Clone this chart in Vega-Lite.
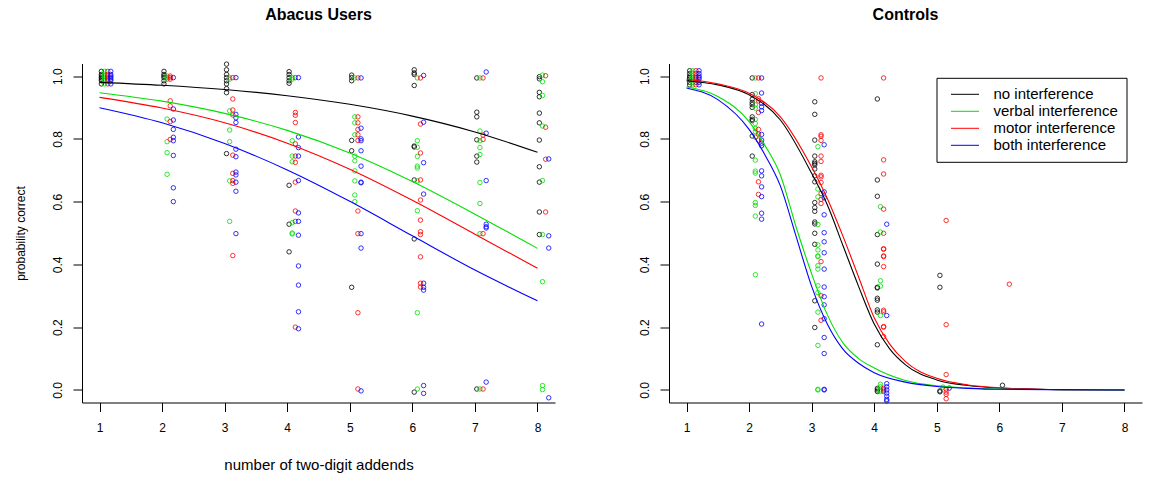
{
"$schema": "https://vega.github.io/schema/vega-lite/v6.json",
"background": "white",
"padding": {"left": 14, "top": 6.5, "right": 5, "bottom": 5},
"spacing": 114,
"bounds": "flush",
"datasets": {
"pts": [
{"panel":"A","cond":"no","x":1.03,"y":0.975},{"panel":"A","cond":"no","x":1.03,"y":0.985},{"panel":"A","cond":"no","x":1.03,"y":0.99},{"panel":"A","cond":"no","x":1.03,"y":0.995},{"panel":"A","cond":"no","x":1.03,"y":1.0},{"panel":"A","cond":"no","x":1.03,"y":1.005},{"panel":"A","cond":"no","x":1.03,"y":1.015},
{"panel":"A","cond":"no","x":2.03,"y":0.975},{"panel":"A","cond":"no","x":2.03,"y":0.985},{"panel":"A","cond":"no","x":2.03,"y":0.995},{"panel":"A","cond":"no","x":2.03,"y":1.0},{"panel":"A","cond":"no","x":2.03,"y":1.005},{"panel":"A","cond":"no","x":2.03,"y":1.015},
{"panel":"A","cond":"no","x":3.03,"y":1.038},{"panel":"A","cond":"no","x":3.03,"y":1.02},{"panel":"A","cond":"no","x":3.03,"y":1.005},{"panel":"A","cond":"no","x":3.03,"y":0.995},{"panel":"A","cond":"no","x":3.03,"y":0.985},{"panel":"A","cond":"no","x":3.03,"y":0.975},{"panel":"A","cond":"no","x":3.03,"y":0.96},{"panel":"A","cond":"no","x":3.03,"y":0.947},{"panel":"A","cond":"no","x":3.03,"y":0.753},
{"panel":"A","cond":"no","x":4.03,"y":1.014},{"panel":"A","cond":"no","x":4.03,"y":1.005},{"panel":"A","cond":"no","x":4.03,"y":0.995},{"panel":"A","cond":"no","x":4.03,"y":0.985},{"panel":"A","cond":"no","x":4.03,"y":0.977},{"panel":"A","cond":"no","x":4.03,"y":0.652},{"panel":"A","cond":"no","x":4.03,"y":0.528},{"panel":"A","cond":"no","x":4.03,"y":0.44},
{"panel":"A","cond":"no","x":5.03,"y":1.003},{"panel":"A","cond":"no","x":5.03,"y":0.995},{"panel":"A","cond":"no","x":5.03,"y":0.985},{"panel":"A","cond":"no","x":5.03,"y":0.795},{"panel":"A","cond":"no","x":5.03,"y":0.762},{"panel":"A","cond":"no","x":5.03,"y":0.327},
{"panel":"A","cond":"no","x":6.03,"y":1.02},{"panel":"A","cond":"no","x":6.03,"y":1.01},{"panel":"A","cond":"no","x":6.03,"y":1.005},{"panel":"A","cond":"no","x":6.03,"y":0.97},{"panel":"A","cond":"no","x":6.03,"y":0.777},{"panel":"A","cond":"no","x":6.03,"y":0.774},{"panel":"A","cond":"no","x":6.03,"y":0.669},{"panel":"A","cond":"no","x":6.03,"y":0.481},{"panel":"A","cond":"no","x":6.03,"y":-0.007},
{"panel":"A","cond":"no","x":7.03,"y":0.994},{"panel":"A","cond":"no","x":7.03,"y":0.885},{"panel":"A","cond":"no","x":7.03,"y":0.87},{"panel":"A","cond":"no","x":7.03,"y":0.797},{"panel":"A","cond":"no","x":7.03,"y":0.745},{"panel":"A","cond":"no","x":7.03,"y":0.726},{"panel":"A","cond":"no","x":7.03,"y":0.003},
{"panel":"A","cond":"no","x":8.03,"y":0.998},{"panel":"A","cond":"no","x":8.03,"y":0.991},{"panel":"A","cond":"no","x":8.03,"y":0.948},{"panel":"A","cond":"no","x":8.03,"y":0.934},{"panel":"A","cond":"no","x":8.03,"y":0.882},{"panel":"A","cond":"no","x":8.03,"y":0.851},{"panel":"A","cond":"no","x":8.03,"y":0.796},{"panel":"A","cond":"no","x":8.03,"y":0.711},{"panel":"A","cond":"no","x":8.03,"y":0.662},{"panel":"A","cond":"no","x":8.03,"y":0.567},{"panel":"A","cond":"no","x":8.03,"y":0.495},
{"panel":"A","cond":"verbal","x":1.08,"y":0.975},{"panel":"A","cond":"verbal","x":1.08,"y":0.985},{"panel":"A","cond":"verbal","x":1.08,"y":0.99},{"panel":"A","cond":"verbal","x":1.08,"y":0.995},{"panel":"A","cond":"verbal","x":1.08,"y":1.0},{"panel":"A","cond":"verbal","x":1.08,"y":1.005},{"panel":"A","cond":"verbal","x":1.08,"y":1.015},
{"panel":"A","cond":"verbal","x":2.08,"y":0.99},{"panel":"A","cond":"verbal","x":2.08,"y":0.995},{"panel":"A","cond":"verbal","x":2.08,"y":1.0},{"panel":"A","cond":"verbal","x":2.08,"y":0.863},{"panel":"A","cond":"verbal","x":2.08,"y":0.791},{"panel":"A","cond":"verbal","x":2.08,"y":0.756},{"panel":"A","cond":"verbal","x":2.08,"y":0.687},
{"panel":"A","cond":"verbal","x":3.08,"y":0.995},{"panel":"A","cond":"verbal","x":3.08,"y":0.99},{"panel":"A","cond":"verbal","x":3.08,"y":0.889},{"panel":"A","cond":"verbal","x":3.08,"y":0.828},{"panel":"A","cond":"verbal","x":3.08,"y":0.791},{"panel":"A","cond":"verbal","x":3.08,"y":0.666},{"panel":"A","cond":"verbal","x":3.08,"y":0.537},
{"panel":"A","cond":"verbal","x":4.08,"y":0.995},{"panel":"A","cond":"verbal","x":4.08,"y":0.99},{"panel":"A","cond":"verbal","x":4.08,"y":0.794},{"panel":"A","cond":"verbal","x":4.08,"y":0.745},{"panel":"A","cond":"verbal","x":4.08,"y":0.727},{"panel":"A","cond":"verbal","x":4.08,"y":0.533},{"panel":"A","cond":"verbal","x":4.08,"y":0.497},{"panel":"A","cond":"verbal","x":4.08,"y":0.5},
{"panel":"A","cond":"verbal","x":5.08,"y":0.994},{"panel":"A","cond":"verbal","x":5.08,"y":0.87},{"panel":"A","cond":"verbal","x":5.08,"y":0.851},{"panel":"A","cond":"verbal","x":5.08,"y":0.813},{"panel":"A","cond":"verbal","x":5.08,"y":0.745},{"panel":"A","cond":"verbal","x":5.08,"y":0.73},{"panel":"A","cond":"verbal","x":5.08,"y":0.698},{"panel":"A","cond":"verbal","x":5.08,"y":0.666},{"panel":"A","cond":"verbal","x":5.08,"y":0.621},{"panel":"A","cond":"verbal","x":5.08,"y":0.6},
{"panel":"A","cond":"verbal","x":6.08,"y":0.994},{"panel":"A","cond":"verbal","x":6.08,"y":0.794},{"panel":"A","cond":"verbal","x":6.08,"y":0.773},{"panel":"A","cond":"verbal","x":6.08,"y":0.744},{"panel":"A","cond":"verbal","x":6.08,"y":0.713},{"panel":"A","cond":"verbal","x":6.08,"y":0.707},{"panel":"A","cond":"verbal","x":6.08,"y":0.666},{"panel":"A","cond":"verbal","x":6.08,"y":0.571},{"panel":"A","cond":"verbal","x":6.08,"y":0.246},{"panel":"A","cond":"verbal","x":6.08,"y":0.003},
{"panel":"A","cond":"verbal","x":7.08,"y":0.994},{"panel":"A","cond":"verbal","x":7.08,"y":0.825},{"panel":"A","cond":"verbal","x":7.08,"y":0.794},{"panel":"A","cond":"verbal","x":7.08,"y":0.772},{"panel":"A","cond":"verbal","x":7.08,"y":0.75},{"panel":"A","cond":"verbal","x":7.08,"y":0.661},{"panel":"A","cond":"verbal","x":7.08,"y":0.594},{"panel":"A","cond":"verbal","x":7.08,"y":0.498},{"panel":"A","cond":"verbal","x":7.08,"y":0.003},
{"panel":"A","cond":"verbal","x":8.08,"y":1.003},{"panel":"A","cond":"verbal","x":8.08,"y":0.982},{"panel":"A","cond":"verbal","x":8.08,"y":0.938},{"panel":"A","cond":"verbal","x":8.08,"y":0.841},{"panel":"A","cond":"verbal","x":8.08,"y":0.667},{"panel":"A","cond":"verbal","x":8.08,"y":0.495},{"panel":"A","cond":"verbal","x":8.08,"y":0.345},{"panel":"A","cond":"verbal","x":8.08,"y":0.014},{"panel":"A","cond":"verbal","x":8.08,"y":0.001},
{"panel":"A","cond":"motor","x":1.13,"y":0.975},{"panel":"A","cond":"motor","x":1.13,"y":0.985},{"panel":"A","cond":"motor","x":1.13,"y":0.99},{"panel":"A","cond":"motor","x":1.13,"y":0.995},{"panel":"A","cond":"motor","x":1.13,"y":1.0},{"panel":"A","cond":"motor","x":1.13,"y":1.005},{"panel":"A","cond":"motor","x":1.13,"y":1.015},
{"panel":"A","cond":"motor","x":2.13,"y":0.99},{"panel":"A","cond":"motor","x":2.13,"y":0.995},{"panel":"A","cond":"motor","x":2.13,"y":1.0},{"panel":"A","cond":"motor","x":2.13,"y":0.921},{"panel":"A","cond":"motor","x":2.13,"y":0.905},{"panel":"A","cond":"motor","x":2.13,"y":0.855},{"panel":"A","cond":"motor","x":2.13,"y":0.798},
{"panel":"A","cond":"motor","x":3.13,"y":0.995},{"panel":"A","cond":"motor","x":3.13,"y":0.927},{"panel":"A","cond":"motor","x":3.13,"y":0.892},{"panel":"A","cond":"motor","x":3.13,"y":0.876},{"panel":"A","cond":"motor","x":3.13,"y":0.748},{"panel":"A","cond":"motor","x":3.13,"y":0.69},{"panel":"A","cond":"motor","x":3.13,"y":0.667},{"panel":"A","cond":"motor","x":3.13,"y":0.658},{"panel":"A","cond":"motor","x":3.13,"y":0.428},
{"panel":"A","cond":"motor","x":4.13,"y":0.995},{"panel":"A","cond":"motor","x":4.13,"y":0.884},{"panel":"A","cond":"motor","x":4.13,"y":0.875},{"panel":"A","cond":"motor","x":4.13,"y":0.852},{"panel":"A","cond":"motor","x":4.13,"y":0.784},{"panel":"A","cond":"motor","x":4.13,"y":0.745},{"panel":"A","cond":"motor","x":4.13,"y":0.725},{"panel":"A","cond":"motor","x":4.13,"y":0.662},{"panel":"A","cond":"motor","x":4.13,"y":0.57},{"panel":"A","cond":"motor","x":4.13,"y":0.537},{"panel":"A","cond":"motor","x":4.13,"y":0.2},
{"panel":"A","cond":"motor","x":5.13,"y":0.994},{"panel":"A","cond":"motor","x":5.13,"y":0.87},{"panel":"A","cond":"motor","x":5.13,"y":0.851},{"panel":"A","cond":"motor","x":5.13,"y":0.83},{"panel":"A","cond":"motor","x":5.13,"y":0.813},{"panel":"A","cond":"motor","x":5.13,"y":0.795},{"panel":"A","cond":"motor","x":5.13,"y":0.57},{"panel":"A","cond":"motor","x":5.13,"y":0.498},{"panel":"A","cond":"motor","x":5.13,"y":0.246},{"panel":"A","cond":"motor","x":5.13,"y":0.003},
{"panel":"A","cond":"motor","x":6.13,"y":0.994},{"panel":"A","cond":"motor","x":6.13,"y":0.847},{"panel":"A","cond":"motor","x":6.13,"y":0.755},{"panel":"A","cond":"motor","x":6.13,"y":0.669},{"panel":"A","cond":"motor","x":6.13,"y":0.605},{"panel":"A","cond":"motor","x":6.13,"y":0.541},{"panel":"A","cond":"motor","x":6.13,"y":0.504},{"panel":"A","cond":"motor","x":6.13,"y":0.495},{"panel":"A","cond":"motor","x":6.13,"y":0.424},{"panel":"A","cond":"motor","x":6.13,"y":0.34},{"panel":"A","cond":"motor","x":6.13,"y":0.328},
{"panel":"A","cond":"motor","x":7.13,"y":0.994},{"panel":"A","cond":"motor","x":7.13,"y":0.812},{"panel":"A","cond":"motor","x":7.13,"y":0.798},{"panel":"A","cond":"motor","x":7.13,"y":0.498},{"panel":"A","cond":"motor","x":7.13,"y":0.003},
{"panel":"A","cond":"motor","x":8.13,"y":1.001},{"panel":"A","cond":"motor","x":8.13,"y":0.837},{"panel":"A","cond":"motor","x":8.13,"y":0.735},{"panel":"A","cond":"motor","x":8.13,"y":0.567},
{"panel":"A","cond":"both","x":1.18,"y":0.975},{"panel":"A","cond":"both","x":1.18,"y":0.985},{"panel":"A","cond":"both","x":1.18,"y":0.99},{"panel":"A","cond":"both","x":1.18,"y":0.995},{"panel":"A","cond":"both","x":1.18,"y":1.0},{"panel":"A","cond":"both","x":1.18,"y":1.005},{"panel":"A","cond":"both","x":1.18,"y":1.015},
{"panel":"A","cond":"both","x":2.18,"y":0.995},{"panel":"A","cond":"both","x":2.18,"y":0.895},{"panel":"A","cond":"both","x":2.18,"y":0.86},{"panel":"A","cond":"both","x":2.18,"y":0.83},{"panel":"A","cond":"both","x":2.18,"y":0.805},{"panel":"A","cond":"both","x":2.18,"y":0.794},{"panel":"A","cond":"both","x":2.18,"y":0.747},{"panel":"A","cond":"both","x":2.18,"y":0.644},{"panel":"A","cond":"both","x":2.18,"y":0.6},
{"panel":"A","cond":"both","x":3.18,"y":0.995},{"panel":"A","cond":"both","x":3.18,"y":0.878},{"panel":"A","cond":"both","x":3.18,"y":0.867},{"panel":"A","cond":"both","x":3.18,"y":0.852},{"panel":"A","cond":"both","x":3.18,"y":0.767},{"panel":"A","cond":"both","x":3.18,"y":0.743},{"panel":"A","cond":"both","x":3.18,"y":0.694},{"panel":"A","cond":"both","x":3.18,"y":0.685},{"panel":"A","cond":"both","x":3.18,"y":0.662},{"panel":"A","cond":"both","x":3.18,"y":0.633},{"panel":"A","cond":"both","x":3.18,"y":0.498},
{"panel":"A","cond":"both","x":4.18,"y":0.995},{"panel":"A","cond":"both","x":4.18,"y":0.806},{"panel":"A","cond":"both","x":4.18,"y":0.772},{"panel":"A","cond":"both","x":4.18,"y":0.745},{"panel":"A","cond":"both","x":4.18,"y":0.667},{"panel":"A","cond":"both","x":4.18,"y":0.564},{"panel":"A","cond":"both","x":4.18,"y":0.537},{"panel":"A","cond":"both","x":4.18,"y":0.493},{"panel":"A","cond":"both","x":4.18,"y":0.395},{"panel":"A","cond":"both","x":4.18,"y":0.334},{"panel":"A","cond":"both","x":4.18,"y":0.249},{"panel":"A","cond":"both","x":4.18,"y":0.195},
{"panel":"A","cond":"both","x":5.18,"y":0.994},{"panel":"A","cond":"both","x":5.18,"y":0.834},{"panel":"A","cond":"both","x":5.18,"y":0.8},{"panel":"A","cond":"both","x":5.18,"y":0.794},{"panel":"A","cond":"both","x":5.18,"y":0.762},{"panel":"A","cond":"both","x":5.18,"y":0.713},{"panel":"A","cond":"both","x":5.18,"y":0.662},{"panel":"A","cond":"both","x":5.18,"y":0.66},{"panel":"A","cond":"both","x":5.18,"y":0.498},{"panel":"A","cond":"both","x":5.18,"y":0.452},{"panel":"A","cond":"both","x":5.18,"y":-0.003},
{"panel":"A","cond":"both","x":6.18,"y":1.002},{"panel":"A","cond":"both","x":6.18,"y":0.853},{"panel":"A","cond":"both","x":6.18,"y":0.724},{"panel":"A","cond":"both","x":6.18,"y":0.624},{"panel":"A","cond":"both","x":6.18,"y":0.34},{"panel":"A","cond":"both","x":6.18,"y":0.327},{"panel":"A","cond":"both","x":6.18,"y":0.318},{"panel":"A","cond":"both","x":6.18,"y":0.014},{"panel":"A","cond":"both","x":6.18,"y":-0.011},
{"panel":"A","cond":"both","x":7.18,"y":1.013},{"panel":"A","cond":"both","x":7.18,"y":0.818},{"panel":"A","cond":"both","x":7.18,"y":0.667},{"panel":"A","cond":"both","x":7.18,"y":0.528},{"panel":"A","cond":"both","x":7.18,"y":0.52},{"panel":"A","cond":"both","x":7.18,"y":0.516},{"panel":"A","cond":"both","x":7.18,"y":0.025},
{"panel":"A","cond":"both","x":8.18,"y":0.736},{"panel":"A","cond":"both","x":8.18,"y":0.491},{"panel":"A","cond":"both","x":8.18,"y":0.452},{"panel":"A","cond":"both","x":8.18,"y":-0.025},
{"panel":"C","cond":"no","x":1.05,"y":0.972},{"panel":"C","cond":"no","x":1.05,"y":0.98},{"panel":"C","cond":"no","x":1.05,"y":0.99},{"panel":"C","cond":"no","x":1.05,"y":0.995},{"panel":"C","cond":"no","x":1.05,"y":1.0},{"panel":"C","cond":"no","x":1.05,"y":1.008},{"panel":"C","cond":"no","x":1.05,"y":1.017},
{"panel":"C","cond":"no","x":2.05,"y":0.994},{"panel":"C","cond":"no","x":2.05,"y":0.941},{"panel":"C","cond":"no","x":2.05,"y":0.926},{"panel":"C","cond":"no","x":2.05,"y":0.916},{"panel":"C","cond":"no","x":2.05,"y":0.909},{"panel":"C","cond":"no","x":2.05,"y":0.9},{"panel":"C","cond":"no","x":2.05,"y":0.87},{"panel":"C","cond":"no","x":2.05,"y":0.862},{"panel":"C","cond":"no","x":2.05,"y":0.858},{"panel":"C","cond":"no","x":2.05,"y":0.809},{"panel":"C","cond":"no","x":2.05,"y":0.745},
{"panel":"C","cond":"no","x":3.05,"y":0.918},{"panel":"C","cond":"no","x":3.05,"y":0.878},{"panel":"C","cond":"no","x":3.05,"y":0.796},{"panel":"C","cond":"no","x":3.05,"y":0.745},{"panel":"C","cond":"no","x":3.05,"y":0.727},{"panel":"C","cond":"no","x":3.05,"y":0.722},{"panel":"C","cond":"no","x":3.05,"y":0.717},{"panel":"C","cond":"no","x":3.05,"y":0.704},{"panel":"C","cond":"no","x":3.05,"y":0.682},{"panel":"C","cond":"no","x":3.05,"y":0.663},{"panel":"C","cond":"no","x":3.05,"y":0.597},{"panel":"C","cond":"no","x":3.05,"y":0.581},{"panel":"C","cond":"no","x":3.05,"y":0.569},{"panel":"C","cond":"no","x":3.05,"y":0.535},{"panel":"C","cond":"no","x":3.05,"y":0.529},{"panel":"C","cond":"no","x":3.05,"y":0.499},{"panel":"C","cond":"no","x":3.05,"y":0.464},{"panel":"C","cond":"no","x":3.05,"y":0.284},{"panel":"C","cond":"no","x":3.05,"y":0.199},
{"panel":"C","cond":"no","x":4.05,"y":0.927},{"panel":"C","cond":"no","x":4.05,"y":0.669},{"panel":"C","cond":"no","x":4.05,"y":0.617},{"panel":"C","cond":"no","x":4.05,"y":0.495},{"panel":"C","cond":"no","x":4.05,"y":0.401},{"panel":"C","cond":"no","x":4.05,"y":0.327},{"panel":"C","cond":"no","x":4.05,"y":0.325},{"panel":"C","cond":"no","x":4.05,"y":0.292},{"panel":"C","cond":"no","x":4.05,"y":0.286},{"panel":"C","cond":"no","x":4.05,"y":0.255},{"panel":"C","cond":"no","x":4.05,"y":0.248},{"panel":"C","cond":"no","x":4.05,"y":0.144},{"panel":"C","cond":"no","x":4.05,"y":0.005},{"panel":"C","cond":"no","x":4.05,"y":0.0},{"panel":"C","cond":"no","x":4.05,"y":-0.005},
{"panel":"C","cond":"no","x":5.05,"y":0.365},{"panel":"C","cond":"no","x":5.05,"y":0.327},{"panel":"C","cond":"no","x":5.05,"y":-0.003},{"panel":"C","cond":"no","x":5.05,"y":-0.006},
{"panel":"C","cond":"no","x":6.05,"y":0.015},
{"panel":"C","cond":"verbal","x":1.1,"y":0.972},{"panel":"C","cond":"verbal","x":1.1,"y":0.98},{"panel":"C","cond":"verbal","x":1.1,"y":0.99},{"panel":"C","cond":"verbal","x":1.1,"y":0.995},{"panel":"C","cond":"verbal","x":1.1,"y":1.0},{"panel":"C","cond":"verbal","x":1.1,"y":1.008},{"panel":"C","cond":"verbal","x":1.1,"y":1.017},
{"panel":"C","cond":"verbal","x":2.1,"y":0.994},{"panel":"C","cond":"verbal","x":2.1,"y":0.944},{"panel":"C","cond":"verbal","x":2.1,"y":0.908},{"panel":"C","cond":"verbal","x":2.1,"y":0.898},{"panel":"C","cond":"verbal","x":2.1,"y":0.862},{"panel":"C","cond":"verbal","x":2.1,"y":0.849},{"panel":"C","cond":"verbal","x":2.1,"y":0.833},{"panel":"C","cond":"verbal","x":2.1,"y":0.823},{"panel":"C","cond":"verbal","x":2.1,"y":0.805},{"panel":"C","cond":"verbal","x":2.1,"y":0.732},{"panel":"C","cond":"verbal","x":2.1,"y":0.697},{"panel":"C","cond":"verbal","x":2.1,"y":0.691},{"panel":"C","cond":"verbal","x":2.1,"y":0.597},{"panel":"C","cond":"verbal","x":2.1,"y":0.588},{"panel":"C","cond":"verbal","x":2.1,"y":0.554},{"panel":"C","cond":"verbal","x":2.1,"y":0.367},
{"panel":"C","cond":"verbal","x":3.1,"y":0.775},{"panel":"C","cond":"verbal","x":3.1,"y":0.64},{"panel":"C","cond":"verbal","x":3.1,"y":0.615},{"panel":"C","cond":"verbal","x":3.1,"y":0.527},{"panel":"C","cond":"verbal","x":3.1,"y":0.462},{"panel":"C","cond":"verbal","x":3.1,"y":0.446},{"panel":"C","cond":"verbal","x":3.1,"y":0.427},{"panel":"C","cond":"verbal","x":3.1,"y":0.425},{"panel":"C","cond":"verbal","x":3.1,"y":0.396},{"panel":"C","cond":"verbal","x":3.1,"y":0.385},{"panel":"C","cond":"verbal","x":3.1,"y":0.332},{"panel":"C","cond":"verbal","x":3.1,"y":0.31},{"panel":"C","cond":"verbal","x":3.1,"y":0.248},{"panel":"C","cond":"verbal","x":3.1,"y":0.142},{"panel":"C","cond":"verbal","x":3.1,"y":0.002},{"panel":"C","cond":"verbal","x":3.1,"y":0.0},
{"panel":"C","cond":"verbal","x":4.1,"y":0.584},{"panel":"C","cond":"verbal","x":4.1,"y":0.503},{"panel":"C","cond":"verbal","x":4.1,"y":0.348},{"panel":"C","cond":"verbal","x":4.1,"y":0.331},{"panel":"C","cond":"verbal","x":4.1,"y":0.237},{"panel":"C","cond":"verbal","x":4.1,"y":0.018},{"panel":"C","cond":"verbal","x":4.1,"y":0.01},{"panel":"C","cond":"verbal","x":4.1,"y":0.0},{"panel":"C","cond":"verbal","x":4.1,"y":-0.005},
{"panel":"C","cond":"verbal","x":5.1,"y":0.009},
{"panel":"C","cond":"motor","x":1.15,"y":0.972},{"panel":"C","cond":"motor","x":1.15,"y":0.98},{"panel":"C","cond":"motor","x":1.15,"y":0.99},{"panel":"C","cond":"motor","x":1.15,"y":0.995},{"panel":"C","cond":"motor","x":1.15,"y":1.0},{"panel":"C","cond":"motor","x":1.15,"y":1.008},{"panel":"C","cond":"motor","x":1.15,"y":1.017},
{"panel":"C","cond":"motor","x":2.15,"y":0.994},{"panel":"C","cond":"motor","x":2.15,"y":0.928},{"panel":"C","cond":"motor","x":2.15,"y":0.921},{"panel":"C","cond":"motor","x":2.15,"y":0.884},{"panel":"C","cond":"motor","x":2.15,"y":0.83},{"panel":"C","cond":"motor","x":2.15,"y":0.815},{"panel":"C","cond":"motor","x":2.15,"y":0.796},{"panel":"C","cond":"motor","x":2.15,"y":0.663},{"panel":"C","cond":"motor","x":2.15,"y":0.623},
{"panel":"C","cond":"motor","x":3.15,"y":0.994},{"panel":"C","cond":"motor","x":3.15,"y":0.813},{"panel":"C","cond":"motor","x":3.15,"y":0.808},{"panel":"C","cond":"motor","x":3.15,"y":0.795},{"panel":"C","cond":"motor","x":3.15,"y":0.745},{"panel":"C","cond":"motor","x":3.15,"y":0.728},{"panel":"C","cond":"motor","x":3.15,"y":0.684},{"panel":"C","cond":"motor","x":3.15,"y":0.679},{"panel":"C","cond":"motor","x":3.15,"y":0.661},{"panel":"C","cond":"motor","x":3.15,"y":0.626},{"panel":"C","cond":"motor","x":3.15,"y":0.607},{"panel":"C","cond":"motor","x":3.15,"y":0.594},{"panel":"C","cond":"motor","x":3.15,"y":0.409},{"panel":"C","cond":"motor","x":3.15,"y":0.3},{"panel":"C","cond":"motor","x":3.15,"y":0.222},
{"panel":"C","cond":"motor","x":4.15,"y":0.994},{"panel":"C","cond":"motor","x":4.15,"y":0.733},{"panel":"C","cond":"motor","x":4.15,"y":0.688},{"panel":"C","cond":"motor","x":4.15,"y":0.576},{"panel":"C","cond":"motor","x":4.15,"y":0.499},{"panel":"C","cond":"motor","x":4.15,"y":0.45},{"panel":"C","cond":"motor","x":4.15,"y":0.448},{"panel":"C","cond":"motor","x":4.15,"y":0.427},{"panel":"C","cond":"motor","x":4.15,"y":0.425},{"panel":"C","cond":"motor","x":4.15,"y":0.393},{"panel":"C","cond":"motor","x":4.15,"y":0.254},{"panel":"C","cond":"motor","x":4.15,"y":0.249},{"panel":"C","cond":"motor","x":4.15,"y":0.202},{"panel":"C","cond":"motor","x":4.15,"y":0.2},{"panel":"C","cond":"motor","x":4.15,"y":0.17},{"panel":"C","cond":"motor","x":4.15,"y":0.005},{"panel":"C","cond":"motor","x":4.15,"y":0.0},{"panel":"C","cond":"motor","x":4.15,"y":-0.005},
{"panel":"C","cond":"motor","x":5.15,"y":0.54},{"panel":"C","cond":"motor","x":5.15,"y":0.208},{"panel":"C","cond":"motor","x":5.15,"y":0.049},{"panel":"C","cond":"motor","x":5.15,"y":0.002},{"panel":"C","cond":"motor","x":5.15,"y":-0.007},{"panel":"C","cond":"motor","x":5.15,"y":-0.014},{"panel":"C","cond":"motor","x":5.15,"y":-0.028},
{"panel":"C","cond":"motor","x":6.16,"y":0.337},
{"panel":"C","cond":"both","x":1.2,"y":0.972},{"panel":"C","cond":"both","x":1.2,"y":0.98},{"panel":"C","cond":"both","x":1.2,"y":0.99},{"panel":"C","cond":"both","x":1.2,"y":0.995},{"panel":"C","cond":"both","x":1.2,"y":1.0},{"panel":"C","cond":"both","x":1.2,"y":1.008},{"panel":"C","cond":"both","x":1.2,"y":1.017},
{"panel":"C","cond":"both","x":2.2,"y":0.994},{"panel":"C","cond":"both","x":2.2,"y":0.946},{"panel":"C","cond":"both","x":2.2,"y":0.913},{"panel":"C","cond":"both","x":2.2,"y":0.902},{"panel":"C","cond":"both","x":2.2,"y":0.89},{"panel":"C","cond":"both","x":2.2,"y":0.814},{"panel":"C","cond":"both","x":2.2,"y":0.796},{"panel":"C","cond":"both","x":2.2,"y":0.786},{"panel":"C","cond":"both","x":2.2,"y":0.778},{"panel":"C","cond":"both","x":2.2,"y":0.698},{"panel":"C","cond":"both","x":2.2,"y":0.682},{"panel":"C","cond":"both","x":2.2,"y":0.647},{"panel":"C","cond":"both","x":2.2,"y":0.616},{"panel":"C","cond":"both","x":2.2,"y":0.563},{"panel":"C","cond":"both","x":2.2,"y":0.544},{"panel":"C","cond":"both","x":2.2,"y":0.21},
{"panel":"C","cond":"both","x":3.2,"y":0.781},{"panel":"C","cond":"both","x":3.2,"y":0.631},{"panel":"C","cond":"both","x":3.2,"y":0.612},{"panel":"C","cond":"both","x":3.2,"y":0.558},{"panel":"C","cond":"both","x":3.2,"y":0.501},{"panel":"C","cond":"both","x":3.2,"y":0.472},{"panel":"C","cond":"both","x":3.2,"y":0.437},{"panel":"C","cond":"both","x":3.2,"y":0.385},{"panel":"C","cond":"both","x":3.2,"y":0.328},{"panel":"C","cond":"both","x":3.2,"y":0.297},{"panel":"C","cond":"both","x":3.2,"y":0.271},{"panel":"C","cond":"both","x":3.2,"y":0.227},{"panel":"C","cond":"both","x":3.2,"y":0.167},{"panel":"C","cond":"both","x":3.2,"y":0.116},{"panel":"C","cond":"both","x":3.2,"y":0.002},{"panel":"C","cond":"both","x":3.2,"y":0.0},
{"panel":"C","cond":"both","x":4.2,"y":0.528},{"panel":"C","cond":"both","x":4.2,"y":0.237},{"panel":"C","cond":"both","x":4.2,"y":0.02},{"panel":"C","cond":"both","x":4.2,"y":0.01},{"panel":"C","cond":"both","x":4.2,"y":0.0},{"panel":"C","cond":"both","x":4.2,"y":-0.01},{"panel":"C","cond":"both","x":4.2,"y":-0.02},{"panel":"C","cond":"both","x":4.2,"y":-0.03},{"panel":"C","cond":"both","x":4.2,"y":-0.035},
{"panel":"C","cond":"both","x":5.2,"y":0.006}
],
"fit": [
{"panel":"A","cond":"no","x":1,"y":0.98},{"panel":"A","cond":"no","x":2,"y":0.9705},{"panel":"A","cond":"no","x":3,"y":0.957},{"panel":"A","cond":"no","x":4,"y":0.9375},{"panel":"A","cond":"no","x":5,"y":0.91},{"panel":"A","cond":"no","x":6,"y":0.8724},{"panel":"A","cond":"no","x":7,"y":0.822},{"panel":"A","cond":"no","x":8,"y":0.757},
{"panel":"A","cond":"verbal","x":1,"y":0.947},{"panel":"A","cond":"verbal","x":2,"y":0.92},{"panel":"A","cond":"verbal","x":3,"y":0.881},{"panel":"A","cond":"verbal","x":4,"y":0.827},{"panel":"A","cond":"verbal","x":5,"y":0.755},{"panel":"A","cond":"verbal","x":6,"y":0.664},{"panel":"A","cond":"verbal","x":7,"y":0.56},{"panel":"A","cond":"verbal","x":8,"y":0.451},
{"panel":"A","cond":"motor","x":1,"y":0.932},{"panel":"A","cond":"motor","x":2,"y":0.898},{"panel":"A","cond":"motor","x":3,"y":0.851},{"panel":"A","cond":"motor","x":4,"y":0.786},{"panel":"A","cond":"motor","x":5,"y":0.703},{"panel":"A","cond":"motor","x":6,"y":0.604},{"panel":"A","cond":"motor","x":7,"y":0.496},{"panel":"A","cond":"motor","x":8,"y":0.388},
{"panel":"A","cond":"both","x":1,"y":0.899},{"panel":"A","cond":"both","x":2,"y":0.851},{"panel":"A","cond":"both","x":3,"y":0.785},{"panel":"A","cond":"both","x":4,"y":0.701},{"panel":"A","cond":"both","x":5,"y":0.601},{"panel":"A","cond":"both","x":6,"y":0.491},{"panel":"A","cond":"both","x":7,"y":0.382},{"panel":"A","cond":"both","x":8,"y":0.284},
{"panel":"C","cond":"no","x":1,"y":0.985},{"panel":"C","cond":"no","x":1.5,"y":0.972},{"panel":"C","cond":"no","x":2,"y":0.94},{"panel":"C","cond":"no","x":2.5,"y":0.86},{"panel":"C","cond":"no","x":3,"y":0.69},{"panel":"C","cond":"no","x":3.25,"y":0.59},{"panel":"C","cond":"no","x":3.5,"y":0.46},{"panel":"C","cond":"no","x":3.75,"y":0.33},{"panel":"C","cond":"no","x":4,"y":0.21},{"panel":"C","cond":"no","x":4.25,"y":0.13},{"panel":"C","cond":"no","x":4.5,"y":0.08},{"panel":"C","cond":"no","x":5,"y":0.032},{"panel":"C","cond":"no","x":5.5,"y":0.014},{"panel":"C","cond":"no","x":6,"y":0.006},{"panel":"C","cond":"no","x":6.5,"y":0.003},{"panel":"C","cond":"no","x":7,"y":0.001},{"panel":"C","cond":"no","x":8,"y":0.0},
{"panel":"C","cond":"motor","x":1,"y":0.99},{"panel":"C","cond":"motor","x":1.5,"y":0.975},{"panel":"C","cond":"motor","x":2,"y":0.945},{"panel":"C","cond":"motor","x":2.5,"y":0.87},{"panel":"C","cond":"motor","x":3,"y":0.71},{"panel":"C","cond":"motor","x":3.25,"y":0.61},{"panel":"C","cond":"motor","x":3.5,"y":0.49},{"panel":"C","cond":"motor","x":3.75,"y":0.36},{"panel":"C","cond":"motor","x":4,"y":0.23},{"panel":"C","cond":"motor","x":4.25,"y":0.145},{"panel":"C","cond":"motor","x":4.5,"y":0.09},{"panel":"C","cond":"motor","x":5,"y":0.037},{"panel":"C","cond":"motor","x":5.5,"y":0.016},{"panel":"C","cond":"motor","x":6,"y":0.007},{"panel":"C","cond":"motor","x":6.5,"y":0.003},{"panel":"C","cond":"motor","x":7,"y":0.001},{"panel":"C","cond":"motor","x":8,"y":0.0},
{"panel":"C","cond":"verbal","x":1,"y":0.966},{"panel":"C","cond":"verbal","x":1.5,"y":0.935},{"panel":"C","cond":"verbal","x":2,"y":0.855},{"panel":"C","cond":"verbal","x":2.25,"y":0.78},{"panel":"C","cond":"verbal","x":2.5,"y":0.685},{"panel":"C","cond":"verbal","x":2.75,"y":0.52},{"panel":"C","cond":"verbal","x":3,"y":0.37},{"panel":"C","cond":"verbal","x":3.25,"y":0.24},{"panel":"C","cond":"verbal","x":3.5,"y":0.15},{"panel":"C","cond":"verbal","x":3.75,"y":0.1},{"panel":"C","cond":"verbal","x":4,"y":0.07},{"panel":"C","cond":"verbal","x":4.5,"y":0.03},{"panel":"C","cond":"verbal","x":5,"y":0.013},{"panel":"C","cond":"verbal","x":5.5,"y":0.006},{"panel":"C","cond":"verbal","x":6,"y":0.003},{"panel":"C","cond":"verbal","x":7,"y":0.001},{"panel":"C","cond":"verbal","x":8,"y":0.0},
{"panel":"C","cond":"both","x":1,"y":0.962},{"panel":"C","cond":"both","x":1.5,"y":0.925},{"panel":"C","cond":"both","x":2,"y":0.83},{"panel":"C","cond":"both","x":2.25,"y":0.75},{"panel":"C","cond":"both","x":2.5,"y":0.65},{"panel":"C","cond":"both","x":2.75,"y":0.49},{"panel":"C","cond":"both","x":3,"y":0.33},{"panel":"C","cond":"both","x":3.25,"y":0.21},{"panel":"C","cond":"both","x":3.5,"y":0.13},{"panel":"C","cond":"both","x":3.75,"y":0.085},{"panel":"C","cond":"both","x":4,"y":0.055},{"panel":"C","cond":"both","x":4.5,"y":0.025},{"panel":"C","cond":"both","x":5,"y":0.011},{"panel":"C","cond":"both","x":5.5,"y":0.005},{"panel":"C","cond":"both","x":6,"y":0.002},{"panel":"C","cond":"both","x":7,"y":0.001},{"panel":"C","cond":"both","x":8,"y":0.0}
]
},
"resolve": {"scale": {"color": "independent"}, "legend": {"color": "independent"}},
"hconcat": [
{
"width": 473, "height": 339,
"title": {"text": "Abacus Users", "offset": 37.5},
"layer": [
{"data": {"name": "pts"}, "transform": [{"filter": "datum.panel === 'A'"}],
 "mark": {"type": "point", "shape": "circle", "filled": false, "size": 20, "strokeWidth": 0.8, "opacity": 1},
 "encoding": {
  "x": {"field": "x", "type": "quantitative", "scale": {"domain": [0.72, 8.28], "nice": false, "zero": false},
   "axis": {"values": [1,2,3,4,5,6,7,8], "format": "d", "title": "number of two-digit addends", "titleFontSize": 15, "titlePadding": 24}},
  "y": {"field": "y", "type": "quantitative", "scale": {"domain": [-0.04, 1.04], "nice": false, "zero": false},
   "axis": {"values": [0,0.2,0.4,0.6,0.8,1], "format": ".1f", "title": "probability correct", "labelAngle": 270, "labelAlign": "center", "labelBaseline": "bottom", "labelPadding": 9, "titlePadding": 24}},
  "color": {"field": "cond", "type": "nominal", "scale": {"domain": ["no","verbal","motor","both"], "range": ["#000000","#00E000","#FF0000","#0000FF"]}, "legend": null}}},
{"data": {"name": "fit"}, "transform": [{"filter": "datum.panel === 'A'"}],
 "mark": {"type": "line", "strokeWidth": 1.1, "interpolate": "monotone"},
 "encoding": {
  "x": {"field": "x", "type": "quantitative"},
  "y": {"field": "y", "type": "quantitative"},
  "color": {"field": "cond", "type": "nominal", "scale": {"domain": ["no","verbal","motor","both"], "range": ["#000000","#00E000","#FF0000","#0000FF"]}, "legend": null}}}
]
},
{
"width": 473, "height": 339,
"title": {"text": "Controls", "offset": 40.5},
"layer": [
{"data": {"name": "pts"}, "transform": [{"filter": "datum.panel === 'C'"}],
 "mark": {"type": "point", "shape": "circle", "filled": false, "size": 20, "strokeWidth": 0.8, "opacity": 1},
 "encoding": {
  "x": {"field": "x", "type": "quantitative", "scale": {"domain": [0.72, 8.28], "nice": false, "zero": false},
   "axis": {"values": [1,2,3,4,5,6,7,8], "format": "d", "title": null}},
  "y": {"field": "y", "type": "quantitative", "scale": {"domain": [-0.04, 1.04], "nice": false, "zero": false},
   "axis": {"values": [0,0.2,0.4,0.6,0.8,1], "format": ".1f", "title": null, "labelAngle": 270, "labelAlign": "center", "labelBaseline": "bottom", "labelPadding": 9}},
  "color": {"field": "cond", "type": "nominal", "scale": {"domain": ["no","verbal","motor","both"], "range": ["#000000","#00E000","#FF0000","#0000FF"]},
   "legend": {"orient": "none", "legendX": 267.5, "legendY": 14.3, "title": null, "symbolType": "stroke", "symbolSize": 784, "symbolStrokeWidth": 1, "symbolOffset": 6, "clipHeight": 17, "labelExpr": "datum.label + ' interference'"}}}},
{"data": {"name": "fit"}, "transform": [{"filter": "datum.panel === 'C'"}],
 "mark": {"type": "line", "strokeWidth": 1.1, "interpolate": "monotone"},
 "encoding": {
  "x": {"field": "x", "type": "quantitative"},
  "y": {"field": "y", "type": "quantitative"},
  "color": {"field": "cond", "type": "nominal", "scale": {"domain": ["no","verbal","motor","both"], "range": ["#000000","#00E000","#FF0000","#0000FF"]},
   "legend": {"orient": "none", "legendX": 267.5, "legendY": 14.3, "title": null, "symbolType": "stroke", "symbolSize": 784, "symbolStrokeWidth": 1, "symbolOffset": 6, "clipHeight": 17, "labelExpr": "datum.label + ' interference'"}}}}
]
}
],
"config": {
"font": "Liberation Sans",
"view": {"stroke": null},
"axis": {"grid": false, "domain": true, "domainColor": "#000000", "domainWidth": 1, "tickSize": 9, "tickColor": "black", "tickWidth": 1, "labelColor": "black", "labelFont": "Liberation Sans", "labelFontSize": 12, "labelPadding": 11, "titleColor": "black", "titleFont": "Liberation Sans", "titleFontSize": 12, "titleFontWeight": "normal"},
"title": {"font": "Liberation Sans", "fontSize": 16, "fontWeight": "bold", "color": "black", "anchor": "middle"},
"legend": {"labelFont": "Liberation Sans", "labelFontSize": 15, "labelColor": "black", "labelLimit": 400, "labelOffset": 14, "rowPadding": 0, "padding": 8, "strokeColor": "black", "fillColor": "white", "cornerRadius": 0}
}
}
